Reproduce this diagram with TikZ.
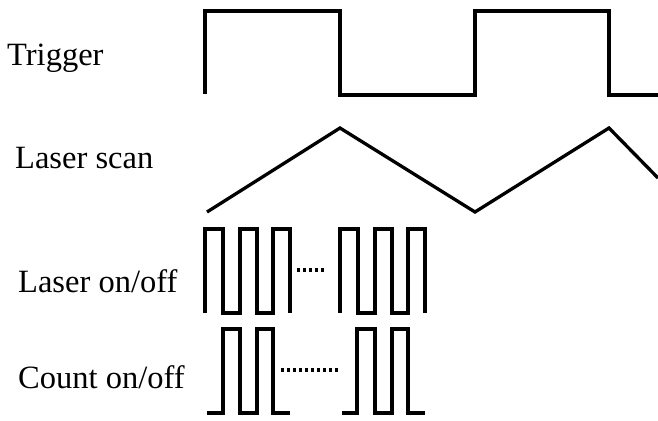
\documentclass[tikz,border=0pt]{standalone}
\usepackage{fontspec}
\setmainfont{Liberation Serif}
\tikzset{
  wave/.style={line width=3.3pt,line join=miter},
  dots/.style={line width=3.3pt,dash pattern=on 3pt off 3pt},
  lbl/.style={anchor=base west,inner sep=0pt,font=\fontsize{32.5}{38}\selectfont}
}

\begin{document}
\begin{tikzpicture}[x=1pt,y=-1pt]
  \useasboundingbox (0,0) rectangle (658,420);
  % labels
  \node[lbl] (trig) at (7,65) {Trigger};
  \node[lbl] (scan) at (15,168) {Laser scan};
  \node[lbl] (laser) at (18,292) {Laser on/off};
  \node[lbl] (count) at (18,388) {Count on/off};
  % trigger
  \draw[wave] (205,94)--(205,11)--(340,11)--(340,95)--(475,95)--(475,11)--(609,11)--(609,95)--(658,95);
  % laser scan
  \draw[wave] (207,212)--(340,128)--(475,212)--(609,128)--(658,178);
  % laser on/off
  \draw[wave] (205,313)--(205,229)--(223,229)--(223,313)--(240,313)--(240,229)--(257,229)--(257,313)--(273,313)--(273,229)--(290,229)--(290,313);
  \draw[dots] (297,270)--(327,270);
  \draw[wave] (340,313)--(340,229)--(358,229)--(358,313)--(375,313)--(375,229)--(392,229)--(392,313)--(408,313)--(408,229)--(425,229)--(425,313);
  % count on/off
  \draw[wave] (207,413)--(223,413)--(223,329)--(240,329)--(240,413)--(257,413)--(257,329)--(273,329)--(273,413)--(290,413);
  \draw[dots] (281,370)--(340,370);
  \draw[wave] (342,413)--(357,413)--(357,329)--(375,329)--(375,413)--(392,413)--(392,329)--(408,329)--(408,413)--(425,413);
\end{tikzpicture}
\end{document}
